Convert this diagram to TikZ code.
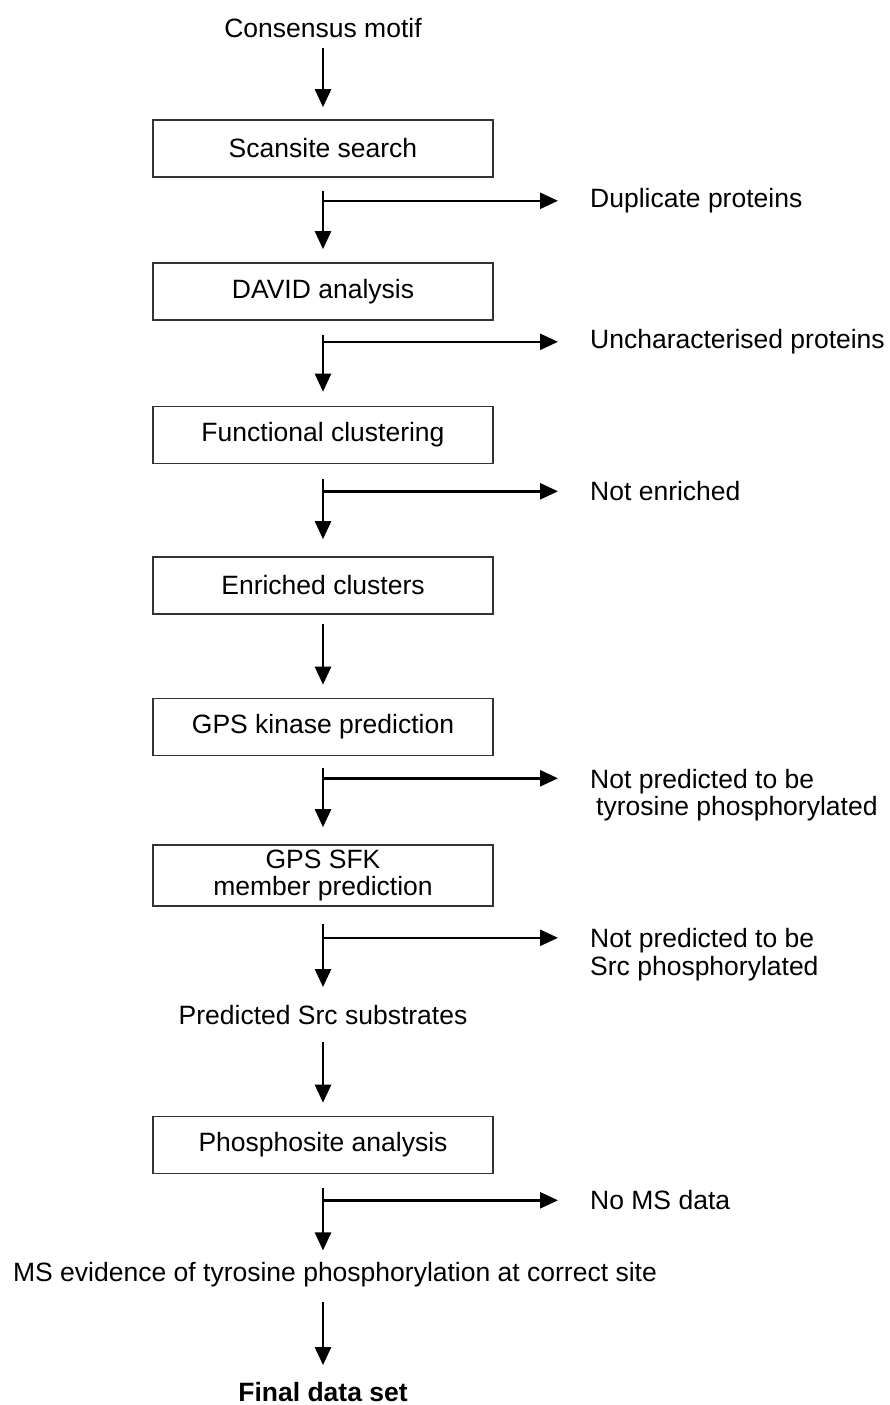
\documentclass[tikz,border=0pt]{standalone}
\usepackage{fontspec}
\setmainfont{Liberation Sans}
\usetikzlibrary{positioning,arrows.meta}
\tikzset{
  stage/.style={draw=black!80, line width=1.6pt, minimum width=340pt, minimum height=57pt, inner sep=0pt, align=center},
  plain/.style={inner sep=0pt, align=center},
  side/.style={inner sep=0pt, align=left},
  flow/.style={line width=2.5pt, -{Triangle[length=18pt,width=16pt]}, shorten <=13pt, shorten >=13pt}
}

\begin{document}
\begin{tikzpicture}[on grid, font=\fontsize{26.5}{27.5}\selectfont]
  \path[use as bounding box] (0pt,0pt) rectangle (890pt,-1405pt);

  \node[plain] (motif) at (323pt,-28pt) {Consensus motif};
  \node[stage] (scan) [below=120.5pt of motif] {Scansite search};
  \node[stage] (david) [below=143pt of scan] {DAVID analysis};
  \node[stage] (func) [below=143.5pt of david] {Functional clustering};
  \node[stage] (enr) [below=150.5pt of func] {Enriched clusters};
  \node[stage] (gpsk) [below=141.5pt of enr] {GPS kinase prediction};
  \node[stage, minimum height=61pt] (gpssfk) [below=148.5pt of gpsk] {GPS SFK\\member prediction};
  \node[plain] (pred) [below=139.5pt of gpssfk] {Predicted Src substrates};
  \node[stage] (phos) [below=130pt of pred] {Phosphosite analysis};
  \node[plain] (msev) [below=130pt of phos, xshift=12pt] {MS evidence of tyrosine phosphorylation at correct site};
  \node[plain, font=\fontsize{26.5}{27}\selectfont\bfseries] (final) [below=117pt of msev, xshift=-12pt] {Final data set};

  % branch points
  \node[coordinate] (k1) [below=23pt of scan.south] {};
  \node[coordinate] (k2) [below=21pt of david.south] {};
  \node[coordinate] (k3) [below=27pt of func.south] {};
  \node[coordinate] (k4) [below=22pt of gpsk.south] {};
  \node[coordinate] (k5) [below=31pt of gpssfk.south] {};
  \node[coordinate] (k6) [below=26pt of phos.south] {};

  % removed sets
  \node[side] (dup) [right=267pt of k1, anchor=west] {Duplicate proteins};
  \node[side] (unchar) [right=267pt of k2, anchor=west] {Uncharacterised proteins};
  \node[side] (notenr) [right=267pt of k3, anchor=west] {Not enriched};
  \node[side] (nottyr) [right=267pt of k4, anchor=north west, yshift=9.5pt] {Not predicted to be\\\hspace*{6pt}tyrosine phosphorylated};
  \node[side] (notsrc) [right=267pt of k5, anchor=north west, yshift=9.5pt] {Not predicted to be\\Src phosphorylated};
  \node[side] (noms) [right=267pt of k6, anchor=west] {No MS data};

  \draw[flow, shorten <=10pt, shorten >=12pt] (motif) -- (scan);
  \draw[flow] (scan) -- (david);
  \draw[flow, shorten <=14pt, shorten >=14pt] (david) -- (func);
  \draw[flow, shorten <=15pt, shorten >=17pt] (func) -- (enr);
  \draw[flow, shorten <=9pt] (enr) -- (gpsk);
  \draw[flow, shorten <=12pt, shorten >=17pt] (gpsk) -- (gpssfk);
  \draw[flow, shorten <=17pt, shorten >=18pt] (gpssfk) -- (pred);
  \draw[flow, shorten <=17pt] (pred) -- (phos);
  \draw[flow, shorten <=14pt, shorten >=12pt] (phos) -- (phos |- msev.north);
  \draw[flow, shorten <=14.5pt, shorten >=17pt] (msev.south -| final) -- (final);

  \draw[flow, shorten <=0pt, shorten >=32pt] (k1) -- (k1 -| dup.west);
  \draw[flow, shorten <=0pt, shorten >=32pt] (k2) -- (k2 -| unchar.west);
  \draw[flow, shorten <=0pt, shorten >=32pt] (k3) -- (k3 -| notenr.west);
  \draw[flow, shorten <=0pt, shorten >=32pt] (k4) -- (k4 -| nottyr.west);
  \draw[flow, shorten <=0pt, shorten >=32pt] (k5) -- (k5 -| notsrc.west);
  \draw[flow, shorten <=0pt, shorten >=32pt] (k6) -- (k6 -| noms.west);
\end{tikzpicture}
\end{document}
